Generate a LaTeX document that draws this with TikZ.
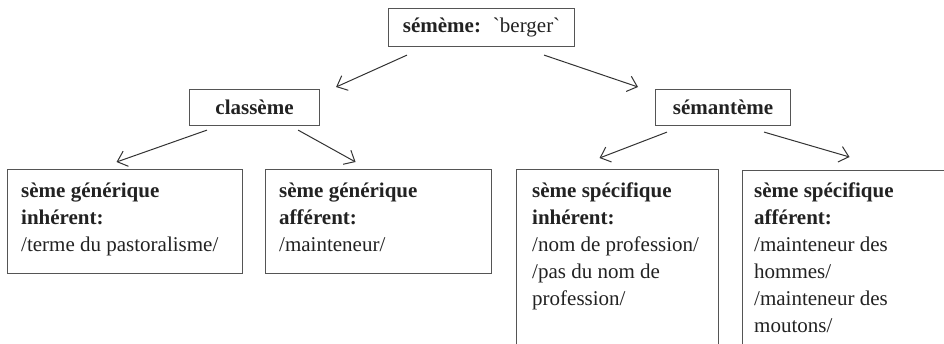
\documentclass[tikz,border=0pt]{standalone}
\usepackage{fontspec}
\setmainfont{Liberation Serif}
\usetikzlibrary{arrows.meta,calc}
\definecolor{boxline}{HTML}{555555}
\definecolor{arrowline}{HTML}{333333}
\definecolor{txt}{HTML}{222222}
\tikzset{
  boxnode/.style={draw=boxline, line width=1.1pt, rectangle, inner sep=0pt, anchor=north west},
  txtnode/.style={anchor=north west, inner sep=0pt, align=left, text=txt, font=\fontsize{21}{27}\selectfont},
  titlenode/.style={anchor=center, inner sep=0pt, text=txt, font=\fontsize{21}{27}\selectfont},
  arr/.style={draw=arrowline, line width=1pt, -{Straight Barb[length=9pt,width=16pt,line width=1pt]}}
}
\begin{document}
\begin{tikzpicture}[x=1pt,y=-1pt]
\useasboundingbox (0,0) rectangle (944,343);
% boxes
\node[boxnode, minimum width=186pt, minimum height=38pt] (top) at (388,8) {};
\node[boxnode, minimum width=130pt, minimum height=36pt] (cla) at (189,89) {};
\node[boxnode, minimum width=135pt, minimum height=36pt] (sem) at (655,89) {};
\node[boxnode, minimum width=235pt, minimum height=104pt] (b1) at (7,169) {};
\node[boxnode, minimum width=226pt, minimum height=104pt] (b2) at (265,169) {};
\node[boxnode, minimum width=202pt, minimum height=200pt] (b3) at (516,169) {};
\node[boxnode, minimum width=240pt, minimum height=200pt] (b4) at (742,170) {};
% titles
\node[titlenode] (ttop) at (top.center) {\textbf{sémème:}\hspace{12pt}\textasciigrave berger\textasciigrave};
\node[titlenode] (tcla) at (cla.center) {\textbf{classème}};
\node[titlenode] (tsem) at (sem.center) {\textbf{sémantème}};
% box texts
\node[txtnode] (t1) at (21,178.1) {\strut\textbf{sème générique}\\\textbf{inhérent:}\\/terme du pastoralisme/};
\node[txtnode] (t2) at (279,178.1) {\strut\textbf{sème générique}\\\textbf{afférent:}\\/mainteneur/};
\node[txtnode] (t3) at (532,178.1) {\strut\textbf{sème spécifique}\\\textbf{inhérent:}\\/nom de profession/\\/pas du nom de\\profession/};
\node[txtnode] (t4) at (754,178.1) {\strut\textbf{sème spécifique}\\\textbf{afférent:}\\/mainteneur des\\hommes/\\/mainteneur des\\moutons/};
% arrows
\draw[arr] ($(top.south west)+(19,8)$) -- ($(cla.north east)+(16,-2)$);
\draw[arr] ($(top.south east)+(-31,8)$) -- ($(sem.north west)+(-17,-2)$);
\draw[arr] ($(cla.south west)+(18,4)$) -- ($(b1.north)+(-8.5,-7)$);
\draw[arr] ($(cla.south east)+(-22,4)$) -- ($(b2.north)+(-23,-7)$);
\draw[arr] ($(sem.south west)+(12,6)$) -- ($(b3.north)+(-18,-11)$);
\draw[arr] ($(sem.south east)+(-27,6)$) -- ($(b4.north)+(-13,-13)$);
\end{tikzpicture}
\end{document}
